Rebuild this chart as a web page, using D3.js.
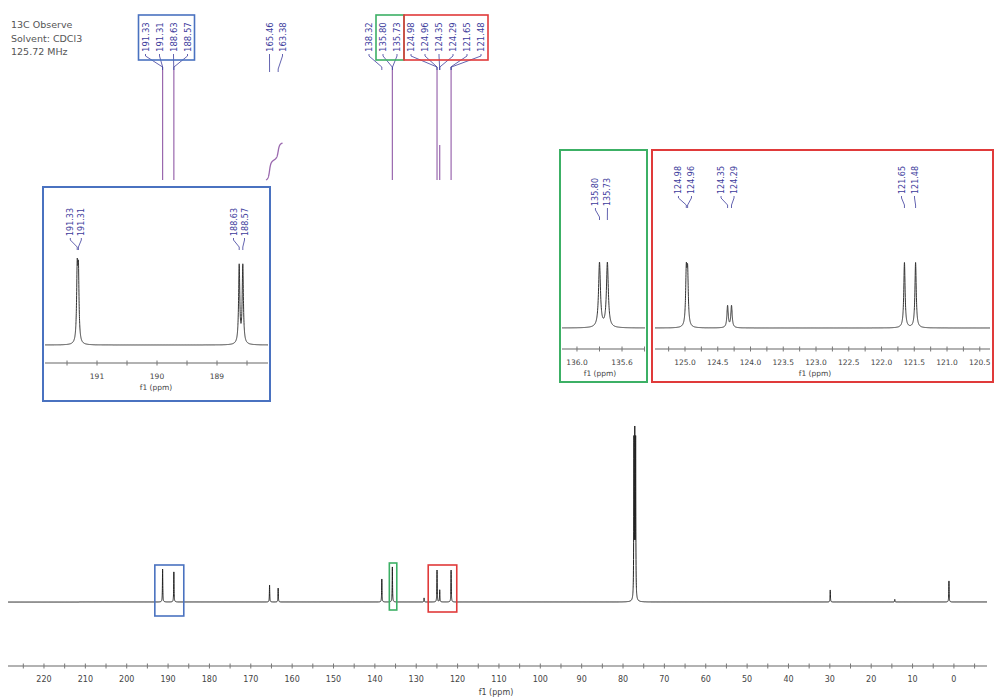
<!DOCTYPE html>
<html>
<head>
<meta charset="utf-8">
<script src="https://cdn.jsdelivr.net/npm/d3@7"></script>
<style>
body { margin: 0; background: #fff; }
svg text { font-family: "DejaVu Sans", Verdana, sans-serif; }
</style>
</head>
<body>
<svg id="chart" width="995" height="697"></svg>
<script>
// Acquisition info (top left)
var headerLines = ["13C Observe", "Solvent: CDCl3", "125.72 MHz"];

// Full spectrum: [ppm, relative height], close lines merged at this scale
var mainPeaks = [
    [191.32, 18.6], [188.60, 17.0], [165.46, 9.6], [163.38, 7.9],
    [138.32, 13.0], [135.77, 19.8], [128.10, 2.3], [124.97, 18.0],
    [124.32, 6.8], [121.57, 18.0], [77.37, 88], [77.16, 90], [76.95, 88],
    [29.90, 6.8], [14.30, 1.5], [1.20, 11.9]
];
var mainTickLabels = [220, 210, 200, 190, 180, 170, 160, 150, 140, 130, 120, 110,
    100, 90, 80, 70, 60, 50, 40, 30, 20, 10, 0];

// Peak labels across the top of the full spectrum
var topLabelsBlue = ["191.33", "191.31", "188.63", "188.57"];
var topPeaksBlue = [191.33, 191.31, 188.63, 188.57];
var topLabelsMid = ["165.46", "163.38"];
var topPeaksMid = [165.46, 163.38];
var topLabelsRight = ["138.32", "135.80", "135.73", "124.98", "124.96", "124.35", "124.29", "121.65", "121.48"];
var topPeaksRight = [138.32, 135.80, 135.73, 124.98, 124.96, 124.35, 124.29, 121.65, 121.48];
var longLinePeaks = [191.32, 188.60, 135.77, 124.97, 121.57];

// Zoomed regions
var bluePeaks = [[191.33, 50], [191.31, 48], [188.63, 57], [188.57, 57]];
var blueLabels = ["191.33", "191.31", "188.63", "188.57"];
var blueTicks = [191, 190, 189];

var greenPeaks = [[135.80, 60], [135.73, 60]];
var greenLabels = ["135.80", "135.73"];
var greenTicks = [136.0, 135.6];

var redPeaks = [[124.98, 50], [124.96, 48], [124.35, 21], [124.29, 21], [121.65, 62.7], [121.48, 62.7]];
var redLabels = ["124.98", "124.96", "124.35", "124.29", "121.65", "121.48"];
var redTicks = [125.0, 124.5, 124.0, 123.5, 123.0, 122.5, 122.0, 121.5, 121.0, 120.5];

// Regions marked on the full spectrum [from ppm, to ppm]
var blueRegion = [193.2, 186.2];
var greenRegion = [136.5, 134.7];
var redRegion = [127.1, 120.2];

var BLUE = "#4a72c0", GREEN = "#3cb065", RED = "#e03a3a";
var LABEL = "#3c3c9c", PURPLE = "#9a68ae", GREY = "#555";

var svg = d3.select("#chart");

// Sum of Lorentzian lines sampled along the ppm range
function lineshape(peaks, hw, lo, hi, step) {
    var xs = d3.range(lo, hi, step);
    peaks.forEach(function (p) { xs.push(p[0]); });
    xs.sort(function (a, b) { return a - b; });
    return xs.map(function (v) {
        return [v, d3.sum(peaks, function (p) {
            return p[1] / (1 + Math.pow((v - p[0]) / hw, 2));
        })];
    });
}

function drawLine(g, data, x, y, color, width) {
    g.append("path")
        .datum(data)
        .attr("fill", "none")
        .attr("stroke", color)
        .attr("stroke-width", width)
        .attr("stroke-linejoin", "round")
        .attr("d", d3.line().x(function (d) { return x(d[0]); }).y(function (d) { return y(d[1]); }));
}

// Axis with "+" shaped ticks
function drawAxis(g, x, yPos, majors, minorStep, fmt, fontSize, labelY) {
    var dom = x.domain();
    var lo = Math.min(dom[0], dom[1]), hi = Math.max(dom[0], dom[1]);
    g.append("line")
        .attr("x1", x.range()[0]).attr("x2", x.range()[1])
        .attr("y1", yPos).attr("y2", yPos)
        .attr("stroke", "#999").attr("stroke-width", 1.6);
    var first = Math.ceil(lo / minorStep - 1e-6);
    var minors = d3.range(first, Math.floor(hi / minorStep + 1e-6) + 1).map(function (k) { return k * minorStep; });
    g.selectAll(null).data(minors).enter().append("line")
        .attr("x1", function (d) { return x(d); }).attr("x2", function (d) { return x(d); })
        .attr("y1", yPos - 2.5).attr("y2", yPos + 2.5)
        .attr("stroke", "#777").attr("stroke-width", 1);
    g.selectAll(null).data(majors).enter().append("text")
        .attr("x", function (d) { return x(d); })
        .attr("y", labelY)
        .attr("text-anchor", "middle")
        .attr("font-size", fontSize)
        .attr("fill", "#444")
        .text(fmt);
}

// Rotated peak labels with the little fan lines down to the peaks
function drawPeakLabels(g, labels, peakXs, centerX, spacing, bottomY, fanY, fontSize) {
    var n = labels.length;
    labels.forEach(function (lab, i) {
        var lx = centerX + (i - (n - 1) / 2) * spacing;
        g.append("text")
            .attr("transform", "translate(" + (lx + 3) + "," + bottomY + ") rotate(-90)")
            .attr("font-size", fontSize)
            .attr("fill", LABEL)
            .text(lab);
        g.append("path")
            .attr("fill", "none")
            .attr("stroke", LABEL)
            .attr("stroke-width", 0.8)
            .attr("d", "M" + lx + "," + (bottomY + 2) + "L" + lx + "," + (bottomY + 4) +
                "L" + peakXs[i] + "," + (fanY - 3) + "L" + peakXs[i] + "," + fanY);
    });
}

// ---------- header ----------
svg.selectAll(".hdr").data(headerLines).enter().append("text")
    .attr("x", 11)
    .attr("y", function (d, i) { return 28 + i * 13.5; })
    .attr("font-size", 9.5)
    .attr("fill", GREY)
    .text(function (d) { return d; });

// ---------- full spectrum ----------
var x = d3.scaleLinear().domain([228.7, -8.0]).range([8, 987]);
var y = d3.scaleLinear().domain([0, 100]).range([602, 425]);
var mainG = svg.append("g");

drawLine(mainG, lineshape(mainPeaks, 0.05, -8.0, 228.7, 0.01), x, y, "#222", 1);
drawAxis(mainG, x, 666, mainTickLabels, 5, function (d) { return d; }, 8, 682);
mainG.append("text").attr("x", 496).attr("y", 695).attr("text-anchor", "middle")
    .attr("font-size", 8).attr("fill", "#444").text("f1 (ppm)");

// region boxes on the full spectrum
[[blueRegion, BLUE, 565, 616], [greenRegion, GREEN, 563, 610], [redRegion, RED, 565, 612]].forEach(function (r) {
    mainG.append("rect")
        .attr("x", x(r[0][0])).attr("y", r[2])
        .attr("width", x(r[0][1]) - x(r[0][0])).attr("height", r[3] - r[2])
        .attr("fill", "none").attr("stroke", r[1]).attr("stroke-width", 1.6);
});

// ---------- labels at the top ----------
var topG = svg.append("g");
var mapX = function (p) { return x(p); };
drawPeakLabels(topG, topLabelsBlue, topPeaksBlue.map(mapX), 166.5, 14, 52, 70, 8.5);
drawPeakLabels(topG, topLabelsMid, topPeaksMid.map(mapX), 276, 13, 52, 72, 8.5);
drawPeakLabels(topG, topLabelsRight, topPeaksRight.map(mapX), 425, 14, 52, 70, 8.5);

function labelBox(center, spacing, n, from, to, color) {
    var a = center + (from - (n - 1) / 2) * spacing - 7;
    var b = center + (to - (n - 1) / 2) * spacing + 7;
    topG.append("rect").attr("x", a).attr("y", 15).attr("width", b - a).attr("height", 45)
        .attr("fill", "none").attr("stroke", color).attr("stroke-width", 1.6);
}
labelBox(166.5, 14, 4, 0, 3, BLUE);
labelBox(425, 14, 9, 1, 2, GREEN);
labelBox(425, 14, 9, 3, 8, RED);

topG.selectAll(".long").data(longLinePeaks).enter().append("line")
    .attr("x1", mapX).attr("x2", mapX)
    .attr("y1", 70).attr("y2", 180)
    .attr("stroke", PURPLE).attr("stroke-width", 1.2);
topG.append("line")
    .attr("x1", x(124.32)).attr("x2", x(124.32))
    .attr("y1", 145).attr("y2", 180)
    .attr("stroke", PURPLE).attr("stroke-width", 1.2);

// integral curve over the 165/163 pair
var intPeaks = mainPeaks.filter(function (p) { return p[0] > 162 && p[0] < 167; });
var intHw = 0.25, intHi = 166.3;
var intPts = d3.range(intHi, 162.3, -0.02).map(function (v) {
    return [v, d3.sum(intPeaks, function (p) {
        return p[1] * intHw * (Math.atan((intHi - p[0]) / intHw) - Math.atan((v - p[0]) / intHw));
    })];
});
var yInt = d3.scaleLinear().domain([0, d3.max(intPts, function (d) { return d[1]; })]).range([180, 143]);
drawLine(topG, intPts, x, yInt, PURPLE, 1.3);

// ---------- zoomed insets ----------
function inset(cfg) {
    var g = svg.append("g");
    g.append("rect")
        .attr("x", cfg.box[0]).attr("y", cfg.box[1])
        .attr("width", cfg.box[2] - cfg.box[0]).attr("height", cfg.box[3] - cfg.box[1])
        .attr("fill", "#fff").attr("stroke", cfg.color).attr("stroke-width", 2);
    var clipId = "clip" + cfg.box[0];
    g.append("clipPath").attr("id", clipId).append("rect")
        .attr("x", cfg.box[0]).attr("y", cfg.box[1])
        .attr("width", cfg.box[2] - cfg.box[0] - 2).attr("height", cfg.box[3] - cfg.box[1]);
    var inner = g.append("g").attr("clip-path", "url(#" + clipId + ")");
    var xs = d3.scaleLinear().domain(cfg.domain).range(cfg.xr);
    var data = lineshape(cfg.peaks, cfg.hw, cfg.domain[1], cfg.domain[0], 0.001);
    var ys = d3.scaleLinear().domain([0, d3.max(data, function (d) { return d[1]; })]).range([cfg.base, cfg.top]);
    drawLine(inner, data, xs, ys, "#333", 1);
    drawAxis(inner, xs, cfg.axisY, cfg.ticks, cfg.minor, function (d) { return d.toFixed(cfg.dec); }, 7.5, cfg.axisY + 16);
    inner.append("text").attr("x", cfg.f1x).attr("y", cfg.axisY + 27).attr("text-anchor", "middle")
        .attr("font-size", 7.5).attr("fill", "#444").text("f1 (ppm)");
    cfg.groups.forEach(function (grp) {
        var pxs = grp.map(function (i) { return xs(cfg.peaks[i][0]); });
        var c = d3.mean(pxs);
        drawPeakLabels(inner, grp.map(function (i) { return cfg.labels[i]; }), pxs, c - 2, cfg.spacing,
            cfg.labelY, cfg.labelY + 14, 8);
    });
}

inset({
    color: BLUE, box: [43, 187, 270, 401], xr: [45, 268], domain: [191.867, 188.15],
    peaks: bluePeaks, labels: blueLabels, hw: 0.012, base: 345, top: 258,
    axisY: 363, ticks: blueTicks, minor: 0.5, dec: 0, f1x: 156,
    groups: [[0, 1], [2, 3]], spacing: 11, labelY: 236
});
inset({
    color: GREEN, box: [560, 150, 647, 382], xr: [562, 645], domain: [136.133, 135.396],
    peaks: greenPeaks, labels: greenLabels, hw: 0.01, base: 328, top: 262,
    axisY: 349, ticks: greenTicks, minor: 0.2, dec: 1, f1x: 600,
    groups: [[0, 1]], spacing: 12, labelY: 206
});
inset({
    color: RED, box: [652, 150, 993, 382], xr: [655, 990], domain: [125.458, 120.344],
    peaks: redPeaks, labels: redLabels, hw: 0.012, base: 328, top: 262,
    axisY: 349, ticks: redTicks, minor: 0.25, dec: 1, f1x: 815,
    groups: [[0, 1], [2, 3], [4, 5]], spacing: 13, labelY: 194
});
</script>
</body>
</html>
